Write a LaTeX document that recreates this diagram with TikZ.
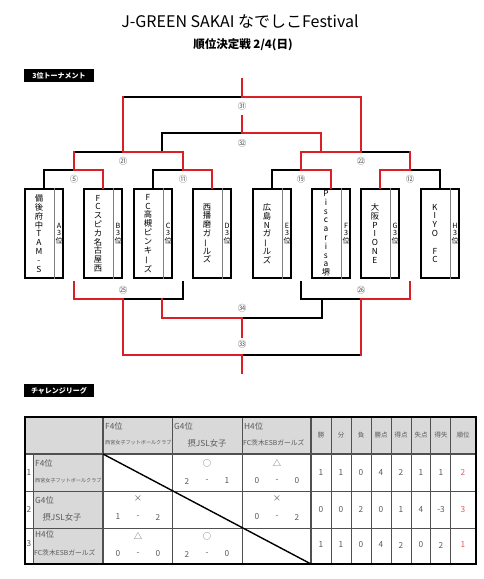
\documentclass[tikz,border=0pt]{standalone}
\usepackage{fontspec}
\setmainfont{Noto Sans CJK JP}
\usepackage{graphicx}
\definecolor{rline}{HTML}{DA1F26}
\definecolor{tgray}{HTML}{5A5A5A}
\definecolor{fillg}{HTML}{D9D9D9}
\definecolor{rtext}{HTML}{E05A5A}
\definecolor{gline}{HTML}{505050}
\newcommand{\vbar}{\rotatebox[origin=c]{90}{ー}}
\begin{document}
\begin{tikzpicture}[x=1pt,y=-1pt,
  bk/.style={line width=2.3pt,black,line cap=rect},
  rd/.style={line width=2.9pt,rline,line cap=rect},
  tbox/.style={draw,line width=2.2pt,minimum width=38pt,minimum height=89pt,inner sep=0pt},
  vmain/.style={font=\fontsize{8.3}{8.8}\selectfont,align=center,inner sep=0pt},
  vside/.style={font=\fontsize{7.2}{7.6}\selectfont,align=center,inner sep=0pt},
  mno/.style={font=\fontsize{8.5}{8.5}\selectfont,text=tgray,inner sep=0pt},
  lab/.style={fill=black,text=white,font=\bfseries\fontsize{7}{7}\selectfont,minimum width=70pt,minimum height=13pt,inner sep=0pt},
  tt/.style={text=tgray,inner sep=0pt,font=\fontsize{8.3}{8.3}\selectfont},
  tts/.style={text=tgray,inner sep=0pt,font=\fontsize{6.5}{6.5}\selectfont},
  thin/.style={gline,line width=0.9pt},
  mid/.style={gline,line width=1.4pt}]
\useasboundingbox (0,0) rectangle (484,579);

% titles
\node[font=\fontsize{16}{16}\selectfont] (title) at (240,21) {J-GREEN SAKAI なでしこFestival};
\node[font=\bfseries\fontsize{11.5}{11.5}\selectfont] (sub) at (243,45) {順位決定戦 2/4(日)};
\node[lab] (lab1) at (59,75.5) {3位トーナメント};
\node[lab] (lab2) at (59,390.5) {チャレンジリーグ};

% team boxes
\foreach \n/\cx in {1/44,2/103,3/153,4/212,5/272,6/331,7/380,8/440}{
  \node[tbox] (b\n) at (\cx,233.5) {};
  \draw[gray,line width=0.7pt] ([xshift=-10pt]b\n.north east) -- ([xshift=-10pt]b\n.south east);
}
\node[vmain] (t1) at ([xshift=15pt]b1.west) {備\\後\\府\\中\\T\\A\\M\\-\\S};
\node[vmain] (t2) at ([xshift=15pt]b2.west) {F\\C\\ス\\ピ\\カ\\名\\古\\屋\\西};
\node[vmain] (t3) at ([xshift=15pt]b3.west) {F\\C\\高\\槻\\ピ\\ン\\キ\\{\vbar}\\ズ};
\node[vmain] (t4) at ([xshift=15pt]b4.west) {西\\播\\磨\\ガ\\{\vbar}\\ル\\ズ};
\node[vmain] (t5) at ([xshift=15pt]b5.west) {広\\島\\N\\ガ\\{\vbar}\\ル\\ズ};
\node[vmain] (t6) at ([xshift=15pt]b6.west) {P\\i\\s\\c\\a\\r\\i\\s\\a\\堺};
\node[vmain] (t7) at ([xshift=15pt]b7.west) {大\\阪\\P\\I\\O\\N\\E};
\node[vmain] (t8) at ([xshift=15pt]b8.west) {K\\I\\Y\\O\\~\\F\\C};
\foreach \n/\l in {1/A,2/B,3/C,4/D,5/E,6/F,7/G,8/H}{
  \node[vside] (r\n) at ([xshift=-5pt]b\n.east) {\l\\3\\位};
}

% match points
\coordinate (m5) at (74,170);  \coordinate (m11) at (183,170);
\coordinate (m19) at (301,170); \coordinate (m12) at (410,170);
\coordinate (m21) at (123,152); \coordinate (m22) at (361,152);
\coordinate (m31) at (242,97);  \coordinate (m32) at (242,133);
\coordinate (l21) at (162,152); \coordinate (l22) at (321,152);
\coordinate (top31) at (242,79); \coordinate (top32) at (242,116);
\coordinate (s5) at (74,282);  \coordinate (s11) at (183,282);
\coordinate (s19) at (301,282); \coordinate (s12) at (410,282);
\coordinate (n25) at (123,299); \coordinate (n26) at (361,299);
\coordinate (l25) at (162,299); \coordinate (l26) at (322,299);
\coordinate (n34) at (242,318); \coordinate (n33) at (242,355);
\coordinate (e34) at (242,337); \coordinate (e33) at (242,373);

% black lines
\draw[bk] (b1.north) |- (m5);
\draw[bk] (b3.north) |- (m11);
\draw[bk] (b5.north) |- (m19);
\draw[bk] (b8.north) |- (m12);
\draw[bk] (m5|-m21) -- (m21);
\draw[bk] (m22) -- (m12|-m22);
\draw[bk] (m21|-m31) -- (m31);
\draw[bk] (l21) |- (m32);
\draw[bk] (s11) |- (n25);
\draw[bk] (s19) |- (n26);
\draw[bk] (l26) |- (n34);
\draw[bk] (n26|-n33) -- (n33);
% red lines
\draw[rd] (b2.north) |- (m5);
\draw[rd] (b4.north) |- (m11);
\draw[rd] (b6.north) |- (m19);
\draw[rd] (b7.north) |- (m12);
\draw[rd] (m5) -- (m5|-m21);
\draw[rd] (m11) -- (m11|-m21);
\draw[rd] (m19) -- (m19|-m22);
\draw[rd] (m12) -- (m12|-m22);
\draw[rd] (m21) -- (m11|-m21);
\draw[rd] (m19|-m22) -- (m22);
\draw[rd] (m21) -- (m21|-m31);
\draw[rd] (m31) -| (m22);
\draw[rd] (m31) -- (top31);
\draw[rd] (m32) -| (l22);
\draw[rd] (m32) -- (top32);
\draw[rd] (s5) |- (n25);
\draw[rd] (s12) |- (n26);
\draw[rd] (n25) |- (n33);
\draw[rd] (l25) |- (n34);
\draw[rd] (n26) -- (n26|-n33);
\draw[rd] (n34) -- (e34);
\draw[rd] (n33) -- (e33);

% match labels
\node[mno] (c5) at (74,179) {⑤};
\node[mno] (c11) at (183,179) {⑪};
\node[mno] (c19) at (301,179) {⑲};
\node[mno] (c12) at (410,179) {⑫};
\node[mno] (c21) at (123,161) {㉑};
\node[mno] (c22) at (361,161) {㉒};
\node[mno] (c31) at (242,106) {㉛};
\node[mno] (c32) at (242,143) {㉜};
\node[mno] (c25) at (123,290) {㉕};
\node[mno] (c26) at (361,290) {㉖};
\node[mno] (c34) at (242,308) {㉞};
\node[mno] (c33) at (242,344) {㉝};

% league table
\fill[fillg] (25,417) rectangle (476,454);
\fill[fillg] (33,454) rectangle (103,564);
\foreach \x in {172,242,331,351,371,391,411,430,450}{\draw[thin] (\x,417) -- (\x,564);}
\draw[thin] (33,454) -- (33,564);
\foreach \y in {491,528}{\draw[thin] (25,\y) -- (476,\y);}
\draw[mid] (25,454) -- (476,454);
\draw[mid] (103,417) -- (103,564);
\draw[mid] (311,417) -- (311,564);
\coordinate (dg1) at (103,454); \coordinate (dg2) at (311,564);
\draw[line width=1.4pt] (dg1) -- (dg2);
\draw[line width=2.6pt] (25,417) rectangle (476,564);

% table header
\node[tt,anchor=west] (hf) at (105,426) {F4位};
\node[tt,anchor=west,font=\fontsize{5.1}{5.1}\selectfont] (hfn) at (105,443) {西宮女子フットボールクラブ};
\node[tt,anchor=west] (hg) at (174,426) {G4位};
\node[tt] (hgn) at (207,443) {摂JSL女子};
\node[tt,anchor=west] (hh) at (244,426) {H4位};
\node[tt,anchor=west,font=\fontsize{6.8}{6.8}\selectfont] (hhn) at (243,443) {FC茨木ESBガールズ};
\foreach \t [count=\c] in {勝,分,負,勝点,得点,失点,得失}{
  \node[tts] (h\c) at ({301+20*\c},435.5) {\t};
}
\node[tts] (h8) at (463,435.5) {順位};

% row heads
\node[tt] (rn1) at (29,473) {1};
\node[tt] (rn2) at (29,509) {2};
\node[tt] (rn3) at (29,544) {3};
\node[tt,anchor=west] (nf) at (35,463) {F4位};
\node[tt,anchor=west,font=\fontsize{5.1}{5.1}\selectfont] (nfn) at (35,481) {西宮女子フットボールクラブ};
\node[tt,anchor=west] (ng) at (35,500) {G4位};
\node[tt] (ngn) at (62,517) {摂JSL女子};
\node[tt,anchor=west] (nh) at (35,534) {H4位};
\node[tt,anchor=west,font=\fontsize{6.8}{6.8}\selectfont] (nhn) at (34,553) {FC茨木ESBガールズ};

% results
\foreach \nm/\cx/\sy/\sc/\a/\b in {r12/207/○/481/2/1, r13/277/△/481/0/0, r21/138/×/517/1/2, r23/277/×/517/0/2, r31/138/△/554/0/0, r32/207/○/554/2/0}{
  \node[tt] (\nm s) at (\cx,{\sc-18}) {\sy};
  \node[tt] (\nm a) at ({\cx-20},\sc) {\a};
  \node[tt] (\nm d) at (\cx,\sc) {-};
  \node[tt] (\nm b) at ({\cx+20},\sc) {\b};
}

% stats
\foreach \row/\yy/\vals/\rk in {1/472.5/{1,1,0,4,2,1,1}/2, 2/509.5/{0,0,2,0,1,4,-3}/3, 3/545/{1,1,0,4,2,0,2}/1}{
  \foreach \v [count=\c] in \vals {
    \node[tt] (st\row\c) at ({301+20*\c},\yy) {\v};
  }
  \node[tt,text=rtext] (rk\row) at (463,\yy) {\rk};
}
\end{tikzpicture}
\end{document}
